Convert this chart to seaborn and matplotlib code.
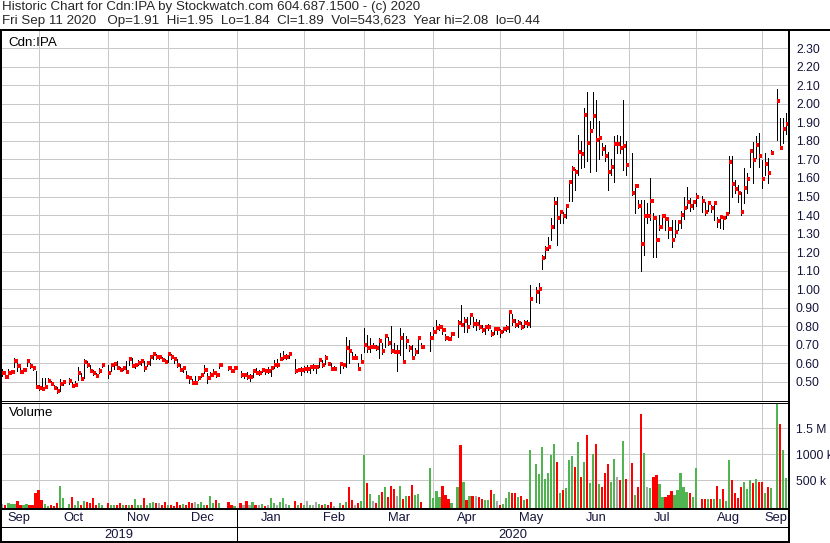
"""Stockwatch-style historic chart for Cdn:IPA (Sep 2019 - Sep 2020)."""
import numpy as np
import pandas as pd
import matplotlib
matplotlib.use("Agg")
import matplotlib.pyplot as plt
from matplotlib.lines import Line2D
import seaborn as sns

nan = np.nan

# one slot per weekday, 2019-09-13 .. 2020-09-11; nan = holiday / no trade
close = [
    .545, .527, .545, .555, .614, .586, .555, .565, .614, .586, .575, .472,  # Sep
    .465, .459, .472, .505, .49, .466, .451, .49, .50, nan, .505, .475, .48, .545, .517, .606,
    .59, .56, .545, .532, .56, .59, nan,  # Oct
    .549, .59, .595, .575, .565, .575, .555, .625, .586, .59, .60, .61, .575, .60, .635, .648,
    .635, .635, .617, .605, .648,  # Nov
    .635, .624, .592, .565, .576, .527, .518, .495, .495, .518, .534, .565, .518, .534, .545,
    .534, .588, nan, nan, .576, .556, .576,  # Dec
    nan, .534, .534, .527, .527, .556, .545, .545, .565, .556, .556, .576, .588, .588, .624,
    .635, .635, .648, nan, .556, .565, .563, .57,  # Jan
    .57, .581, .581, .581, .617, .592, .63, .597, .57, .57, nan, .597, .592, .68, .668, .63,
    .63, .57, .606, .70,  # Feb
    .68, .689, .689, .68, .722, .668, .747, .71, .668, .66, .66, .734, .606, .722, .68, .63,
    .66, .734, .689, nan, nan, .734,  # Mar
    .77, .788, .797, .778, .735, .731, .757, nan, .818, .805, .829, .793, .86, .814, .814,
    .797, .778, .793, .797, .757, .782, .782,  # Apr
    .769, .782, .791, .877, .829, .805, .818, .797, .818, .809, .946, nan, .982, .998, 1.169,
    1.218, 1.229, 1.333, 1.467, 1.382, 1.417,  # May
    1.395, 1.45, 1.58, 1.65, 1.63, 1.738, 1.73, 1.938, 1.79, 1.851, 1.932, 1.806, 1.815,
    1.758, 1.72, 1.63, 1.66, 1.783, 1.783, 1.76, 1.77, 1.668,  # Jun
    nan, 1.52, 1.558, 1.45, 1.242, 1.395, 1.395, 1.478, 1.383, 1.266, 1.338, 1.395, 1.381,
    1.323, 1.266, 1.31, 1.36, 1.40, 1.44, 1.47, 1.45, 1.47, 1.50,  # Jul
    nan, 1.477, 1.418, 1.463, 1.44, 1.467, 1.369, 1.391, 1.382, 1.405, 1.688, 1.568, 1.539,
    1.521, 1.418, 1.548, 1.595, 1.748, 1.697, 1.778, 1.719,  # Aug
    1.595, 1.676, 1.629, 1.737, nan, 2.018, 1.76, 1.863, 1.89,  # Sep
]
high = [
    .57, .56, .57, .565, .63, .60, .59, .575, .625, .60, .585, .56,
    .48, .52, .52, .52, .505, .48, .47, .515, .51, nan, .52, .50, .505, .58, .545, .62,
    .61, .59, .565, .545, .575, .60, nan,
    .59, .60, .60, .61, .58, .585, .61, .63, .63, .60, .615, .615, .61, .61, .64, .655,
    .65, .64, .635, .62, .655,
    .65, .635, .62, .595, .58, .56, .527, .515, .53, .525, .54, .59, .545, .55, .57,
    .55, .595, nan, nan, .58, .585, .58,
    nan, .56, .545, .55, .54, .565, .575, .565, .575, .57, .58, .585, .615, .62, .655,
    .665, .65, .65, nan, .62, .57, .58, .585,
    .59, .59, .595, .59, .621, .617, .644, .603, .599, .585, nan, .603, .603, .743, .725, .662,
    .65, .603, .65, .788,
    .752, .734, .707, .698, .734, .707, .752, .743, .801, .707, .698, .788, .761, .747, .698, .698,
    .68, .734, .707, nan, nan, .77,
    .797, .833, .81, .80, .76, .745, .765, nan, .832, .913, .85, .85, .865, .85, .841,
    .832, .805, .80, .814, .778, .793, .793,
    .782, .796, .805, .886, .868, .841, .832, .823, .832, .832, 1.022, nan, 1.013, 1.034, 1.184,
    1.233, 1.284, 1.385, 1.50, 1.50, 1.42,
    1.419, 1.455, 1.59, 1.665, 1.65, 1.833, 1.80, 1.98, 2.062, 1.905, 2.062, 2.02, 1.905,
    1.79, 1.78, 1.74, 1.70, 1.825, 1.833, 1.825, 2.022, 1.80,
    nan, 1.734, 1.563, 1.48, 1.48, 1.48, 1.464, 1.60, 1.41, 1.374, 1.40, 1.40, 1.40,
    1.374, 1.374, 1.374, 1.374, 1.42, 1.50, 1.55, 1.49, 1.48, 1.52,
    nan, 1.503, 1.472, 1.463, 1.454, 1.467, 1.391, 1.40, 1.391, 1.409, 1.719, 1.719, 1.589,
    1.562, 1.526, 1.652, 1.625, 1.755, 1.796, 1.827, 1.841,
    1.697, 1.733, 1.706, 1.751, nan, 2.08, 1.923, 1.923, 1.95,
]
low = [
    .53, .52, .535, .545, .58, .56, .55, .555, .585, .575, .565, .465,
    .455, .455, .465, .50, .485, .46, .437, .45, .48, nan, .49, .47, .475, .51, .51, .52,
    .58, .555, .535, .53, .545, .58, nan,
    .52, .56, .57, .57, .56, .565, .555, .59, .58, .575, .59, .59, .56, .585, .59, .62,
    .62, .625, .61, .60, .605,
    .625, .60, .58, .56, .555, .52, .495, .49, .49, .51, .525, .545, .495, .52, .53,
    .525, .575, nan, nan, .565, .55, .565,
    nan, .527, .52, .515, .505, .525, .54, .535, .55, .54, .545, .53, .575, .58, .615,
    .62, .62, .63, nan, .545, .56, .536, .554,
    .554, .549, .563, .549, .581, .581, .595, .59, .563, .565, nan, .549, .572, .581, .599, .626,
    .626, .563, .599, .662,
    .662, .662, .68, .671, .626, .65, .689, .698, .657, .657, .559, .644, .603, .68, .668, .626,
    .644, .657, .68, nan, nan, .668,
    .743, .77, .78, .755, .725, .725, .745, nan, .742, .80, .77, .77, .814, .796, .778,
    .787, .769, .76, .778, .746, .757, .76,
    .742, .769, .775, .769, .805, .793, .793, .787, .793, .796, .793, nan, .932, .923, 1.11,
    1.166, 1.21, 1.265, 1.33, 1.24, 1.355,
    1.359, 1.383, 1.475, 1.475, 1.535, 1.617, 1.653, 1.66, 1.69, 1.63, 1.87, 1.64, 1.70,
    1.725, 1.69, 1.535, 1.617, 1.58, 1.735, 1.737, 1.644, 1.617,
    nan, 1.51, 1.41, 1.44, 1.10, 1.185, 1.356, 1.374, 1.176, 1.176, 1.32, 1.338, 1.32,
    1.275, 1.23, 1.284, 1.32, 1.33, 1.38, 1.44, 1.42, 1.43, 1.45,
    nan, 1.418, 1.40, 1.423, 1.418, 1.373, 1.337, 1.328, 1.323, 1.382, 1.413, 1.50, 1.517,
    1.472, 1.40, 1.463, 1.517, 1.661, 1.571, 1.706, 1.661,
    1.544, 1.616, 1.571, 1.73, nan, 1.805, 1.76, 1.787, 1.84,
]
# volume in thousands of shares
volume_k = [
    37, 17, 50, 37, 37, 95, 8, 17, 37, 12, 10, 256,
    308, 114, 37, 5, 8, 3, 50, 385, 153, nan, 37, 166, 10, 95, 10, 95, 75, 50, 153, 10, 50, 17, nan,
    50, 10, 10, 17, 50, 10, 17, 17, 17, 133, 17, 17, 153, 17, 50, 75, 50, 50, 12, 75, 12,
    8, 3, 75, 17, 37, 10, 75, 62, 75, 37, 75, 12, 12, 191, 50, 114, 50, nan, nan, 75, 12, 5,
    nan, 50, 8, 95, 8, 75, 12, 12, 37, 5, 12, 153, 50, 8, 75, 153, 37, 12, nan, 95, 12, 50, 17,
    95, 10, 17, 75, 37, 8, 37, 10, 75, 5, nan, 50, 12, 75, 359, 114, 10, 50, 95, 984,
    436, 224, 95, 50, 211, 275, 359, 166, 385, 320, 191, 385, 133, 191, 191, 404, 211, 224, 68,
    nan, nan, 725,
    146, 288, 178, 385, 211, 133, 50, nan, 359, 1177, 462, 114, 191, 191, 191, 166, 133, 114,
    114, 308, 224, 95,
    12, 37, 146, 269, 243, 243, 166, 191, 114, 133, 1080, nan, 810, 615, 1130, 520, 640, 985,
    1195, 850, 243,
    308, 340, 885, 965, 745, 1235, 565, 850, 1370, 440, 1000, 1195, 415, 360, 640, 820, 465,
    900, 565, 500, 1250, 520,
    nan, 835, 211, 360, 1780, 1020, 360, 340, 550, 600, 420, 165, 165, 210, 290, 210, 308, 630,
    359, 275, 256, 166, 725,
    nan, 125, 133, 140, 133, 133, 385, 133, 320, 100, 885, 500, 243, 146, 359, 469, 320, 500,
    436, 513, 469,
    469, 256, 359, 340, nan, 1970, 1580, 1080, 544,
]

price_ticks = np.round(np.arange(0.5, 2.31, 0.1), 2)
vol_ticks = [500_000, 1_000_000, 1_500_000]
vol_tick_labels = ["500 k", "1000 k", "1.5 M"]
header_1 = "Historic Chart for Cdn:IPA by Stockwatch.com 604.687.1500 - (c) 2020"
header_2 = ("Fri Sep 11 2020   Op=1.91  Hi=1.95  Lo=1.84  Cl=1.89  "
            "Vol=543,623  Year hi=2.08  lo=0.44")

W, H = 830, 543
PX0, PXS = 2.4, 3.014          # pixel x of slot 0, pixels per slot
PX = 0.7                       # one pixel in points (slightly under, no AA)
NAVY = "#14143c"
GRID = "#c8c8c8"
PAL = {"up": "#50b450", "down": "#ff0000", "flat": "#a8a8a8"}


def rect(x0, y0, x1, y1):
    return [x0 / W, 1 - y1 / H, (x1 - x0) / W, (y1 - y0) / H]


def px_to_slot(px):
    return (px - PX0) / PXS


def price_at(y):
    return 0.5 + (381.7 - y) / 185.2


def vol_at(y):
    return (505.9 - y) * 19342


sns.set_style("white")
plt.rcParams["font.family"] = ["Liberation Sans", "DejaVu Sans"]
plt.rcParams["lines.antialiased"] = False
plt.rcParams["patch.antialiased"] = False

days = pd.bdate_range("2019-09-13", "2020-09-11")
df = pd.DataFrame(dict(date=days, slot=np.arange(len(days)), high=high, low=low,
                       close=close, vol=np.array(volume_k) * 1000.0))
bars = df.dropna(subset=["close"]).copy()
chg = bars["close"].diff()
bars["dir"] = np.select([chg > 1e-9, chg < -1e-9], ["up", "down"], "flat")

# month boundaries (first trading slot, rolled back over weekends) and label centres
starts = pd.date_range("2019-10-01", "2020-09-01", freq="MS")
bounds = [np.busday_count(days[0].date(), np.busday_offset(d.date(), 0, roll="backward"))
          for d in starts]
xlo, xhi = px_to_slot(0), px_to_slot(789)
edges = [xlo] + bounds + [xhi]
centres = [(a + b) / 2 for a, b in zip(edges[:-1], edges[1:])]
mlabels = ["Sep"] + [d.strftime("%b") for d in starts]
jan = bounds[3]

fig = plt.figure(figsize=(W / 100, H / 100), dpi=100)

# price panel: high-low bar with the close tick on the right
ax = fig.add_axes(rect(0, 30, 789, 400.5))
ax.vlines(bars["slot"], bars["low"], bars["high"], colors="black", lw=PX,
          antialiased=False, zorder=3)
ax.hlines(bars["close"], bars["slot"], bars["slot"] + 1.05, colors="#ff0000",
          lw=2.5 * PX, antialiased=False, zorder=4)
ax.set_xlim(xlo, xhi)
ax.set_ylim(price_at(400.5), price_at(30))
ax.set_yticks(price_ticks, [f"{t:.2f}" for t in price_ticks])

# volume panel
axv = fig.add_axes(rect(0, 402.5, 789, 509))
vmin = vol_at(509)
bars["vol_h"] = bars["vol"] - vmin
sns.barplot(data=bars, x="slot", y="vol_h", hue="dir", palette=PAL, native_scale=True,
            dodge=False, width=0.72, errorbar=None, legend=False, saturation=1,
            linewidth=0, bottom=vmin, ax=axv, zorder=3)
axv.set_xlim(xlo, xhi)
axv.set_ylim(vmin, vol_at(402.5))
axv.set_yticks(vol_ticks, vol_tick_labels)
axv.set_xlabel("")
axv.set_ylabel("")

for a in (ax, axv):
    a.set_xticks(bounds, [""] * len(bounds))
    a.yaxis.tick_right()
    a.tick_params(axis="both", length=0)
    a.tick_params(axis="y", pad=5, labelsize=8.7, labelcolor=NAVY)
    a.grid(True, color=GRID, lw=PX)
    a.set_axisbelow(True)
    for s in a.spines.values():
        s.set_visible(False)

ax.text(8 / 789, 1 - 13 / 370.5, "Cdn:IPA", transform=ax.transAxes, fontsize=9.6,
        va="center", ha="left", color="black")
axv.text(9 / 789, 1 - 10.5 / 106.5, "Volume", transform=axv.transAxes, fontsize=9.6,
         va="center", ha="left", color="black")

# date rows
axd = fig.add_axes(rect(0, 509, 789, 542))
axd.set_xlim(xlo, xhi)
axd.set_ylim(0, 33)
axd.axis("off")
axd.axvline(jan, color="black", lw=PX)
axd.axhline(15, color="black", lw=PX)
for c, m in zip(centres, mlabels):
    axd.text(c, 24, m, ha="center", va="center", fontsize=9.3, color=NAVY)
axd.text((xlo + jan) / 2, 7.5, "2019", ha="center", va="center", fontsize=9.3, color=NAVY)
axd.text((jan + xhi) / 2, 7.5, "2020", ha="center", va="center", fontsize=9.3, color=NAVY)


def fline(x0, y0, x1, y1, wpx):
    fig.add_artist(Line2D([x0 / W, x1 / W], [1 - y0 / H, 1 - y1 / H], color="black",
                          lw=wpx * PX, antialiased=False))


fline(0, 30, W, 30, 2)
fline(1, 30, 1, H, 2)
fline(789, 30, 789, H, 2)
fline(0, 400.5, 789, 400.5, 1)
fline(0, 402.5, 789, 402.5, 1)
fline(0, 509, 789, 509, 2)
fline(0, 542, 789, 542, 2)

fig.text(2 / W, 1 - 7 / H, header_1, fontsize=9.6, va="center", ha="left")
fig.text(2 / W, 1 - 21 / H, header_2, fontsize=9.6, va="center", ha="left")

fig.savefig("out.png", dpi=100, facecolor="white")
